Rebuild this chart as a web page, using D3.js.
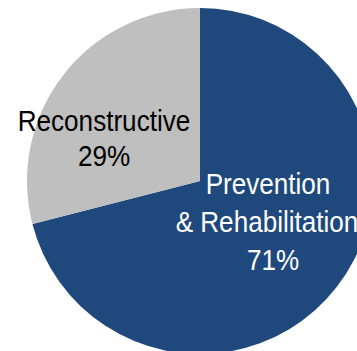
<!DOCTYPE html>
<html>
<head>
<meta charset="utf-8">
<script src="https://cdn.jsdelivr.net/npm/d3@7"></script>
<style>
  html, body { margin: 0; padding: 0; background: #ffffff; }
  svg { display: block; }
  text { font-family: "Liberation Sans", Arial, sans-serif; }
</style>
</head>
<body>
<svg id="chart" width="357" height="351"></svg>
<script>
// Share of spending by category (percent)
const categories = ["Prevention & Rehabilitation", "Reconstructive"];
const values = [71, 29];
const labelLines = [["Prevention", "& Rehabilitation", "71%"], ["Reconstructive", "29%"]];
const colors = ["#1F497D", "#BFBFBF"];
const textColors = ["#ffffff", "#000000"];

const width = 357, height = 351;
const cx = 200, cy = 181, radius = 173;

const svg = d3.select("#chart");
const g = svg.append("g").attr("transform", `translate(${cx},${cy})`);

const pie = d3.pie().sort(null).value(d => d.value).startAngle(0).endAngle(2 * Math.PI);
const data = pie(categories.map((c, i) => ({ name: c, value: values[i], i })));

const arc = d3.arc().innerRadius(0).outerRadius(radius);

g.selectAll("path.slice")
  .data(data)
  .join("path")
  .attr("class", "slice")
  .attr("d", arc)
  .attr("fill", d => colors[d.data.i]);

// Label anchors (centre x, first baseline, line gap, per-line x nudge) relative to the pie centre
const labelPos = [
  { x: 68, y: 12.5, gap: 38.5, dx: [0, -1, 5] },
  { x: -96, y: -50.5, gap: 35.5, dx: [0, 0] }
];

data.forEach(d => {
  const p = labelPos[d.data.i];
  const lg = g.append("g")
    .attr("transform", `translate(${p.x},${p.y}) scale(0.9,1)`);
  labelLines[d.data.i].forEach((line, k) => {
    lg.append("text")
      .attr("x", p.dx[k] / 0.9)
      .attr("y", k * p.gap)
      .attr("text-anchor", "middle")
      .attr("font-size", "29px")
      .attr("fill", textColors[d.data.i])
      .text(line);
  });
});
</script>
</body>
</html>
